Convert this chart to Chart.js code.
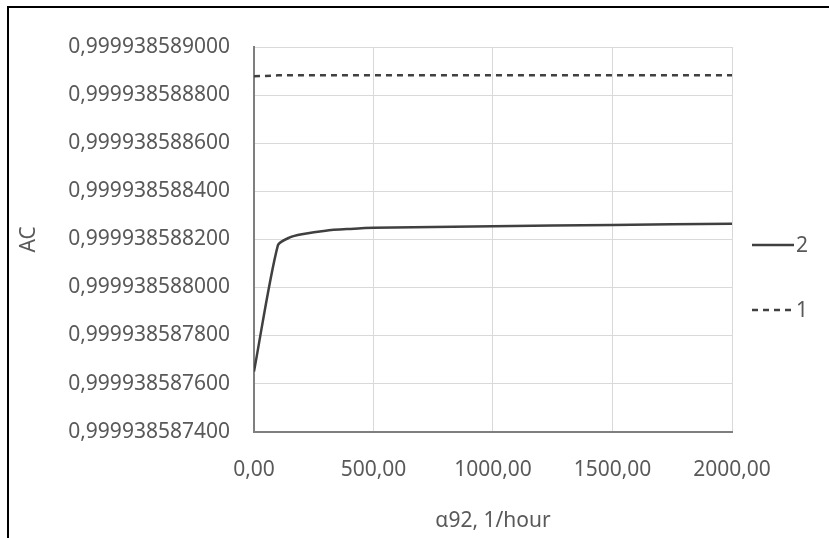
<!DOCTYPE html>
<html>
<head>
<meta charset="utf-8">
<script src="https://cdn.jsdelivr.net/npm/chart.js@4"></script>
<style>
  html, body { margin: 0; padding: 0; background: #fff; }
  #wrap { position: relative; width: 829px; height: 538px; }
  #frame { position: absolute; left: 7px; top: 6px; right: -5px; bottom: -5px; border-top: 2px solid #000; border-left: 2px solid #000; pointer-events: none; }
  canvas { position: absolute; left: 0; top: 0; }
</style>
</head>
<body>
<div id="wrap">
  <canvas id="myChart" width="829" height="538"></canvas>
  <div id="frame"></div>
</div>
<script>
// Data
const xValues = [0, 100, 150, 200, 300, 400, 500, 1000, 1500, 2000];
const series2 = [0.99993858765, 0.999938588175, 0.999938588208, 0.999938588221, 0.999938588236, 0.999938588243, 0.999938588248, 0.999938588254, 0.99993858826, 0.999938588265];
const series1 = [0.999938588878, 0.999938588882, 0.999938588882, 0.999938588882, 0.999938588882, 0.999938588882, 0.999938588882, 0.999938588882, 0.999938588882, 0.999938588882];
const seriesNames = ["2", "1"];
const yTickLabels = ["0,999938587400", "0,999938587600", "0,999938587800", "0,999938588000",
  "0,999938588200", "0,999938588400", "0,999938588600", "0,999938588800", "0,999938589000"];
const xTickValues = [0, 500, 1000, 1500, 2000];

// values differ only in the 10th decimal, so plot them as offsets (in 1e-12) from the lowest tick
const BASE = 0.9999385874;
const toOffset = (v) => (v - BASE) * 1e12;

const gray = "#595959";
const lineColor = "#404040";
const fontFamily = "'Noto Sans', 'Open Sans', sans-serif";
const font = { family: fontFamily, size: 21 };

// Legend drawn to the right of the plot, like the Excel one (line sample + name)
const sideLegend = {
  id: "sideLegend",
  afterDraw(chart) {
    const c = chart.ctx;
    const rows = [245, 310];
    chart.data.datasets.forEach((ds, i) => {
      const y = rows[i];
      c.save();
      c.strokeStyle = ds.borderColor;
      c.lineWidth = 2.5;
      c.setLineDash(ds.borderDash || []);
      c.beginPath();
      c.moveTo(752, y);
      c.lineTo(794, y);
      c.stroke();
      c.setLineDash([]);
      c.fillStyle = gray;
      c.font = `${font.size}px ${fontFamily}`;
      c.textBaseline = "middle";
      c.fillText(ds.label, 796, y + 1);
      c.restore();
    });
  },
};

var ctx = document.getElementById("myChart");
var myChart = new Chart(ctx, {
  type: "line",
  data: {
    datasets: [
      {
        label: seriesNames[0],
        data: xValues.map((x, i) => ({ x: x, y: toOffset(series2[i]) })),
        borderColor: lineColor,
        backgroundColor: lineColor,
        borderWidth: 2.5,
        pointRadius: 0,
        tension: 0.25,
      },
      {
        label: seriesNames[1],
        data: xValues.map((x, i) => ({ x: x, y: toOffset(series1[i]) })),
        borderColor: lineColor,
        backgroundColor: lineColor,
        borderWidth: 2.5,
        borderDash: [6, 5],
        pointRadius: 0,
      },
    ],
  },
  options: {
    responsive: false,
    animation: false,
    layout: { padding: { left: 12, right: 97, top: 47, bottom: 0 } },
    plugins: {
      tooltip: { enabled: false },
      legend: { display: false },
    },
    scales: {
      x: {
        type: "linear",
        min: 0,
        max: 2000,
        afterBuildTicks: (axis) => { axis.ticks = xTickValues.map((v) => ({ value: v })); },
        ticks: {
          color: gray,
          font: font,
          padding: 26,
          maxRotation: 0,
          callback: (v) => v.toFixed(2).replace(".", ","),
        },
        grid: { color: "#d9d9d9", drawTicks: false },
        border: { color: "#7f7f7f", width: 2 },
        title: { display: true, text: "α92, 1/hour", color: gray, font: font, padding: { top: 0 } },
      },
      y: {
        min: 0,
        max: 1600,
        ticks: {
          stepSize: 200,
          color: gray,
          font: font,
          padding: 24,
          callback: (v) => yTickLabels[Math.round(v / 200)],
        },
        grid: { color: "#d9d9d9", drawTicks: false },
        border: { color: "#7f7f7f", width: 2 },
        title: { display: true, text: "AC", color: gray, font: font, padding: { bottom: 3 } },
      },
    },
  },
  plugins: [sideLegend],
});
</script>
</body>
</html>
